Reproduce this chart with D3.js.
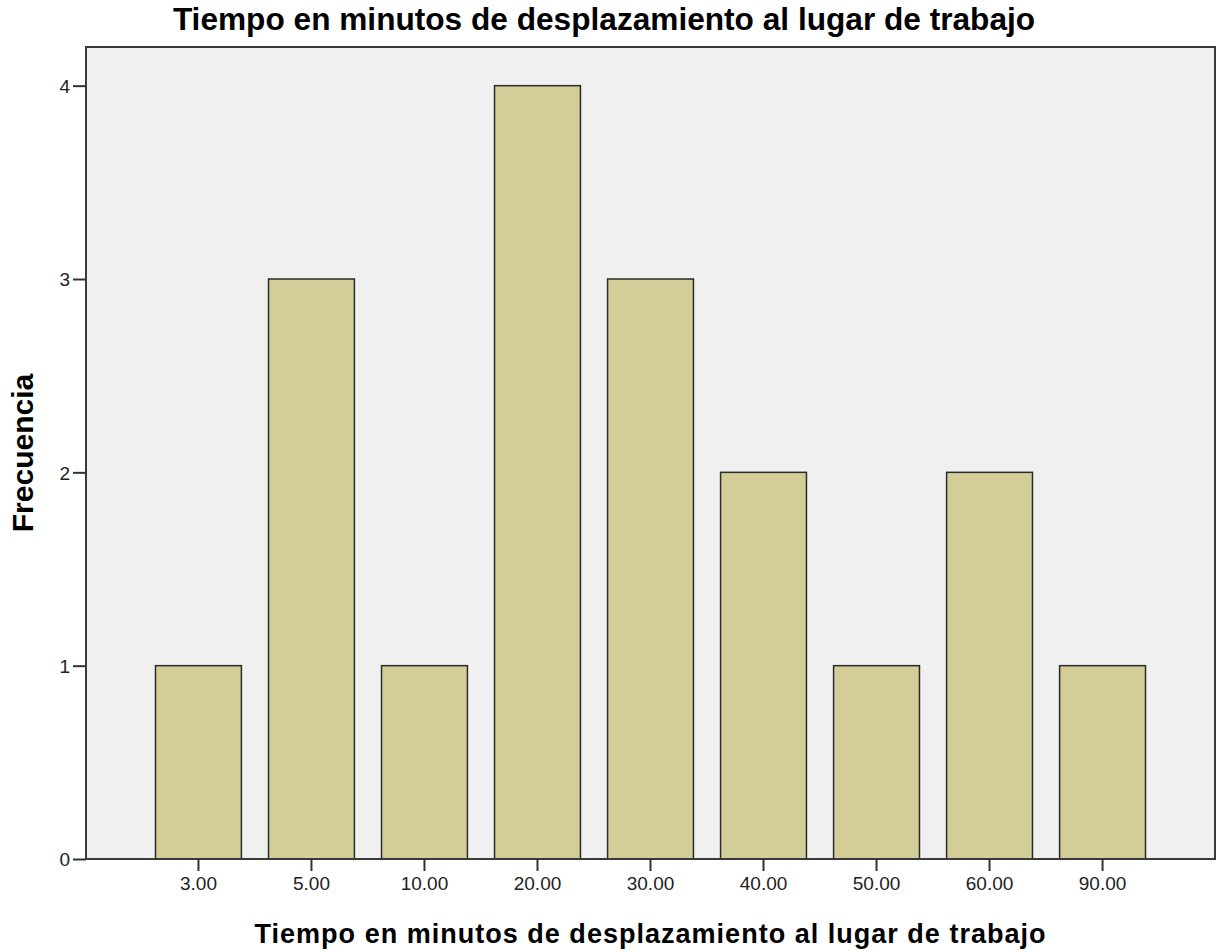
<html>
<head>
<style>
  body { margin: 0; background: #fff; }
  text { font-family: "Liberation Sans", Arial, sans-serif; }
</style>
<script src="https://d3js.org/d3.v7.min.js"></script>
</head>
<body>
<script>
const categories = ["3.00", "5.00", "10.00", "20.00", "30.00", "40.00", "50.00", "60.00", "90.00"];
const counts = [1, 3, 1, 4, 3, 2, 1, 2, 1];
const yTicks = [0, 1, 2, 3, 4];
const titleText = "Tiempo en minutos de desplazamiento al lugar de trabajo";
const xLabelText = "Tiempo en minutos de desplazamiento al lugar de trabajo";
const yLabelText = "Frecuencia";

const w = 1221, h = 952;
const plotL = 86, plotR = 1215, plotT = 47, plotB = 859;

const svg = d3.select("body").append("svg")
  .attr("width", w).attr("height", h);

const data = categories.map((c, i) => ({cat: c, n: counts[i]}));

const x = d3.scaleBand()
  .domain(categories)
  .range([plotL, plotR])
  .paddingInner(0.24)
  .paddingOuter(0.615);

const y = d3.scaleLinear()
  .domain([0, 4.2])
  .range([plotB, plotT]);

// plot background
svg.append("rect")
  .attr("x", plotL).attr("y", plotT)
  .attr("width", plotR - plotL).attr("height", plotB - plotT)
  .attr("fill", "#f0f0f0");

// bars
svg.selectAll("rect.bar")
  .data(data)
  .enter()
  .append("rect")
  .attr("class", "bar")
  .attr("x", d => x(d.cat))
  .attr("y", d => y(d.n))
  .attr("width", x.bandwidth())
  .attr("height", d => y(0) - y(d.n))
  .attr("fill", "#d3ce97")
  .attr("stroke", "#2b2b2b")
  .attr("stroke-width", 1.5);

// frame
svg.append("rect")
  .attr("x", plotL).attr("y", plotT)
  .attr("width", plotR - plotL).attr("height", plotB - plotT)
  .attr("fill", "none")
  .attr("stroke", "#3a3a3a")
  .attr("stroke-width", 2);

// axes
const xAxis = d3.axisBottom(x).tickSize(12).tickPadding(6).tickSizeOuter(0);
const yAxis = d3.axisLeft(y).tickValues(yTicks).tickFormat(d3.format("d"))
  .tickSize(13).tickPadding(3).tickSizeOuter(0);

const gx = svg.append("g")
  .attr("transform", "translate(0," + plotB + ")")
  .call(xAxis);
const gy = svg.append("g")
  .attr("transform", "translate(" + plotL + ",0)")
  .call(yAxis);

[gx, gy].forEach(g => {
  g.select(".domain").remove();
  g.selectAll(".tick line").attr("stroke", "#333").attr("stroke-width", 2);
  g.selectAll(".tick text")
    .attr("fill", "#222")
    .style("font-family", "'Liberation Sans', Arial, sans-serif")
    .style("font-size", "19px");
});
gy.selectAll(".tick text").attr("dy", "0.36em");

// fit a text element's drawn width by adjusting its font size
function fitText(sel, target) {
  let size = 30;
  for (let i = 0; i < 4; i++) {
    sel.style("font-size", size + "px");
    const len = sel.node().getBBox().width;
    size = size * target / len;
  }
  sel.style("font-size", size + "px");
}

const title = svg.append("text")
  .attr("x", 604).attr("y", 30)
  .attr("text-anchor", "middle")
  .attr("font-weight", "bold")
  .attr("fill", "#000")
  .text(titleText);
fitText(title, 862);

const xLabel = svg.append("text")
  .attr("x", (plotL + plotR) / 2).attr("y", 943)
  .attr("text-anchor", "middle")
  .attr("font-weight", "bold")
  .attr("fill", "#000")
  .style("letter-spacing", "1px")
  .text(xLabelText);
fitText(xLabel, 792);

const yLabel = svg.append("text")
  .attr("transform", "translate(33," + ((plotT + plotB) / 2) + ") rotate(-90)")
  .attr("text-anchor", "middle")
  .attr("font-weight", "bold")
  .attr("fill", "#000")
  .text(yLabelText);
fitText(yLabel, 159);
</script>
</body>
</html>
